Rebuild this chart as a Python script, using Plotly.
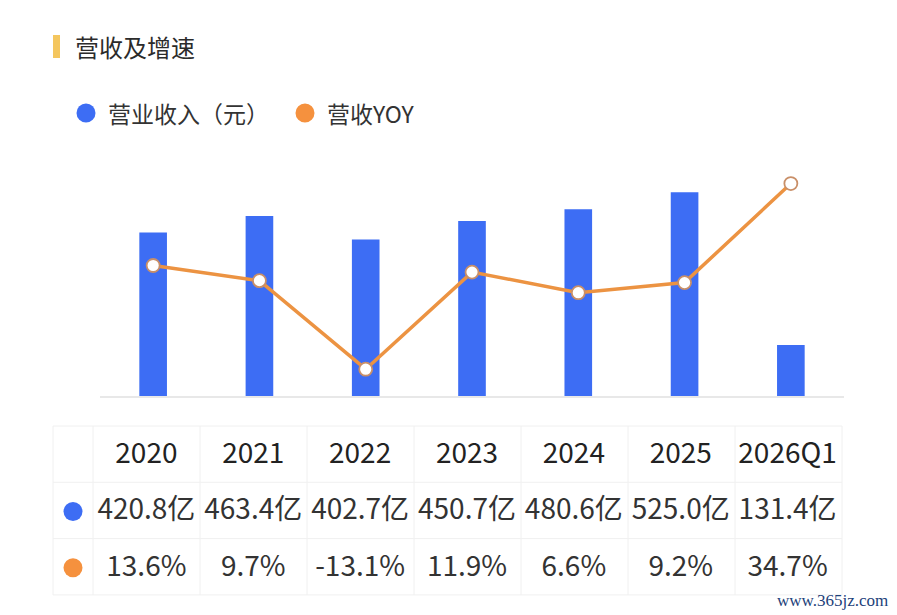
import plotly.graph_objects as go

# %%
years = ["2020", "2021", "2022", "2023", "2024", "2025", "2026Q1"]
revenue = [420.8, 463.4, 402.7, 450.7, 480.6, 525.0, 131.4]  # 亿元
yoy = [13.6, 9.7, -13.1, 11.9, 6.6, 9.2, 34.7]  # %

BLUE = "#3d6df4"
ORANGE = "#f5913e"
LINE_ORANGE = "#ec9342"
TEXT = "#333333"
GRID = "#f0f0f0"
FONT = "Noto Sans CJK SC"

# page body has an 8px margin, so the figure is shrunk and shifted by it
OFF = 8
W, H = 897 - OFF, 615 - OFF


# margins are zero, so paper coords map straight to page pixels
def px(x):
    return (x - OFF) / W


def py(y):
    return 1 - (y - OFF) / H


# %%
fig = go.Figure()

fig.add_trace(
    go.Bar(
        x=years,
        y=revenue,
        width=0.26,
        marker=dict(color=BLUE, line=dict(width=0)),
        name="营业收入（元）",
        showlegend=False,
        hoverinfo="x+y",
    )
)

fig.add_trace(
    go.Scatter(
        x=years,
        y=yoy,
        yaxis="y2",
        mode="lines+markers",
        line=dict(color=LINE_ORANGE, width=3.5),
        marker=dict(size=13, color="white", line=dict(color="#c98f68", width=1.8)),
        name="营收YOY",
        showlegend=False,
    )
)

# %% table under the chart
rev_labels = [f"{v:.1f}亿" for v in revenue]
yoy_labels = [f"{v:.1f}%" for v in yoy]

tbl_left, tbl_top = 53, 426
first_w, col_w, row_h = 40, 107, 56.3
tbl_right = tbl_left + first_w + col_w * len(years)
n_rows = 3

# plotly puts table text near the top of the cell, so the trace sits a bit
# lower than the grid lines to get the text centred
fig.add_trace(
    go.Table(
        domain=dict(x=[px(tbl_left), px(tbl_right)], y=[py(tbl_top + 8 + row_h * n_rows), py(tbl_top + 8)]),
        columnwidth=[first_w] + [col_w] * len(years),
        header=dict(
            values=[""] + years,
            height=row_h,
            align="center",
            fill=dict(color="rgba(0,0,0,0)"),
            line=dict(color="rgba(0,0,0,0)", width=0),
            font=dict(family=FONT, size=28, color="#222222"),
        ),
        cells=dict(
            values=[["", ""]] + [[r, y] for r, y in zip(rev_labels, yoy_labels)],
            height=row_h,
            align="center",
            fill=dict(color="rgba(0,0,0,0)"),
            line=dict(color="rgba(0,0,0,0)", width=0),
            font=dict(family=FONT, size=28, color=TEXT),
        ),
    )
)

# grid of the table
col_edges = [tbl_left, tbl_left + first_w] + [tbl_left + first_w + col_w * (i + 1) for i in range(len(years))]
row_edges = [tbl_top + row_h * i for i in range(n_rows + 1)]
for xe in col_edges:
    fig.add_shape(
        type="line", xref="paper", yref="paper", layer="below",
        x0=px(xe), x1=px(xe), y0=py(row_edges[0]), y1=py(row_edges[-1]),
        line=dict(color=GRID, width=1),
    )
for ye in row_edges:
    fig.add_shape(
        type="line", xref="paper", yref="paper", layer="below",
        x0=px(tbl_left), x1=px(tbl_right), y0=py(ye), y1=py(ye),
        line=dict(color=GRID, width=1),
    )

# series dots in the first column
for i, color in enumerate([BLUE, ORANGE]):
    cx = tbl_left + first_w / 2
    cy = tbl_top + row_h * (i + 1.5) + 1
    fig.add_shape(
        type="circle", xref="paper", yref="paper",
        x0=px(cx - 9.5), x1=px(cx + 9.5), y0=py(cy + 9.5), y1=py(cy - 9.5),
        fillcolor=color, line=dict(width=0),
    )

# %%
fig.update_layout(
    width=W,
    height=H,
    margin=dict(l=0, r=0, t=0, b=0),
    paper_bgcolor="white",
    plot_bgcolor="white",
    font=dict(family=FONT, color=TEXT),
    xaxis=dict(
        domain=[px(100), px(844)],
        showticklabels=False,
        ticks="",
        showgrid=False,
        showline=True,
        linecolor="#e8e8e8",
        linewidth=2,
        zeroline=False,
    ),
    yaxis=dict(domain=[py(396), py(163)], range=[0, 600], visible=False, showgrid=False),
    yaxis2=dict(range=[-20, 40], overlaying="y", visible=False, showgrid=False),
)

# title with yellow marker
fig.add_shape(
    type="rect", xref="paper", yref="paper",
    x0=px(53), x1=px(60), y0=py(58), y1=py(35),
    fillcolor="#f4c65e", line=dict(width=0),
)
fig.add_annotation(
    text="营收及增速", xref="paper", yref="paper",
    x=px(73), y=py(46), xanchor="left", yanchor="middle",
    showarrow=False, font=dict(family=FONT, size=24, color="#2b2b2b"),
)

# legend
for cx, color, label in [(86, BLUE, "营业收入（元）"), (305, ORANGE, "营收YOY")]:
    fig.add_shape(
        type="circle", xref="paper", yref="paper",
        x0=px(cx - 9.5), x1=px(cx + 9.5), y0=py(113 + 9.5), y1=py(113 - 9.5),
        fillcolor=color, line=dict(width=0),
    )
    fig.add_annotation(
        text=label, xref="paper", yref="paper",
        x=px(cx + 20), y=py(113), xanchor="left", yanchor="middle",
        showarrow=False, font=dict(family=FONT, size=23, color=TEXT),
    )

# watermark
fig.add_annotation(
    text="www.365jz.com", xref="paper", yref="paper",
    x=px(890), y=py(600), xanchor="right", yanchor="middle",
    showarrow=False, font=dict(family="Liberation Serif", size=17, color="#1d3f7a"),
)

fig.write_html("out.html")
